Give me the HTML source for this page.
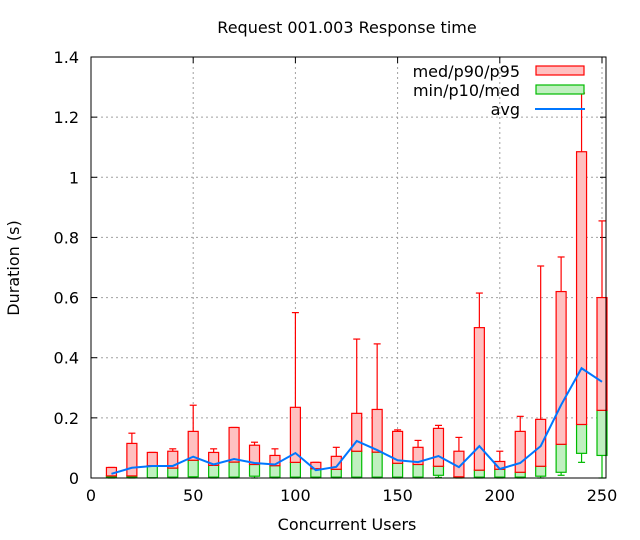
<!DOCTYPE html>
<html><head><meta charset="utf-8"><style>
body{margin:0;background:#fff}
svg{display:block;font-family:"DejaVu Sans","Liberation Sans",sans-serif}
</style></head><body>
<svg id="chart" width="640" height="540" viewBox="0 0 640 540" xmlns="http://www.w3.org/2000/svg">
<text x="347" y="33" font-size="16" text-anchor="middle">Request 001.003 Response time</text>
<text x="19" y="268" font-size="16" text-anchor="middle" transform="rotate(-90 19 268)">Duration (s)</text>
<text x="347" y="530" font-size="16" text-anchor="middle">Concurrent Users</text>
<g id="grid"></g>
<g id="ticks"></g>
<g id="marks"></g>
<g id="legend">
<text x="520" y="77" font-size="16" text-anchor="end">med/p90/p95</text>
<rect x="536" y="66" width="48" height="9" fill="#ffc0c0" stroke="#f00" stroke-width="1.2"/>
<text x="520" y="96" font-size="16" text-anchor="end">min/p10/med</text>
<rect x="536" y="85" width="48" height="9" fill="#c0f0c0" stroke="#0b0" stroke-width="1.2"/>
<text x="520" y="115" font-size="16" text-anchor="end">avg</text>
<line x1="535" y1="109" x2="585" y2="109" stroke="#07f" stroke-width="2"/>
</g>
<rect x="91" y="57" width="515" height="421" fill="none" stroke="#000" stroke-width="1"/>
</svg>
<script>
const users=[10,20,30,40,50,60,70,80,90,100,110,120,130,140,150,160,170,180,190,200,210,220,230,240,250];
const minV=[0,0,0,0,0.002,0,0,0,0,0,0,0,0,0,0,0,0.002,0,0,0,0,0,0.009,0.052,0];
const p10=[0.003,0.003,0.001,0.003,0.004,0.003,0.003,0.006,0.003,0.003,0.003,0.003,0.003,0.003,0.003,0.003,0.009,0.003,0.003,0.003,0.003,0.006,0.019,0.082,0.075];
const med=[0.007,0.007,0.041,0.033,0.059,0.042,0.053,0.045,0.041,0.052,0.031,0.029,0.089,0.086,0.049,0.045,0.039,0.004,0.026,0.029,0.019,0.039,0.112,0.178,0.225];
const p90=[0.035,0.115,0.085,0.089,0.155,0.085,0.168,0.109,0.075,0.235,0.052,0.072,0.215,0.228,0.155,0.102,0.165,0.089,0.5,0.055,0.155,0.195,0.62,1.085,0.6];
const p95=[0.035,0.149,0.085,0.097,0.242,0.097,0.168,0.119,0.097,0.55,0.052,0.102,0.462,0.446,0.16,0.125,0.175,0.135,0.615,0.089,0.205,0.705,0.735,1.28,0.855];
const avg=[0.014,0.034,0.04,0.04,0.071,0.045,0.063,0.05,0.045,0.083,0.026,0.037,0.123,0.093,0.059,0.053,0.073,0.036,0.106,0.03,0.05,0.106,0.243,0.365,0.32];
const yTicks=[0,0.2,0.4,0.6,0.8,1,1.2,1.4];
const xTicks=[0,50,100,150,200,250];
const NS="http://www.w3.org/2000/svg";
const X=v=>91+v*(511/250);
const Y=v=>478-v*(421/1.4);
function mk(parent,tag,attrs){const e=document.createElementNS(NS,tag);for(const k in attrs)e.setAttribute(k,attrs[k]);document.getElementById(parent).appendChild(e);return e;}
yTicks.forEach(t=>{
  if(t>0&&t<1.4){const g=mk('grid','line',{x1:91,x2:606,y1:Y(t),y2:Y(t),stroke:'#a0a0a0','stroke-dasharray':'2,3'});
  
  }
  mk('ticks','line',{x1:91,x2:97,y1:Y(t),y2:Y(t),stroke:'#000'});
  mk('ticks','line',{x1:600,x2:606,y1:Y(t),y2:Y(t),stroke:'#000'});
  const l=mk('ticks','text',{x:79,y:Y(t)+6,'font-size':16,'text-anchor':'end'});
  l.textContent=String(t);
  
  
});
xTicks.forEach(t=>{
  if(t>0){const g=mk('grid','line',{x1:X(t),x2:X(t),y1:57,y2:478,stroke:'#a0a0a0','stroke-dasharray':'2,3'});
  
  }
  mk('ticks','line',{x1:X(t),x2:X(t),y1:478,y2:472,stroke:'#000'});
  mk('ticks','line',{x1:X(t),x2:X(t),y1:57,y2:63,stroke:'#000'});
  const l=mk('ticks','text',{x:X(t),y:501,'font-size':16,'text-anchor':'middle'});
  l.textContent=String(t);
  
  
});
const hw=5, tw=3.5;
users.forEach((u,i)=>{
  const cx=X(u);
  mk('marks','line',{x1:cx,x2:cx,y1:Y(minV[i]),y2:Y(p10[i]),stroke:'#0b0','stroke-width':1.2});
  mk('marks','line',{x1:cx-tw,x2:cx+tw,y1:Y(minV[i]),y2:Y(minV[i]),stroke:'#0b0','stroke-width':1.2});
  const g=mk('marks','rect',{x:cx-hw,y:Y(med[i]),width:2*hw,height:Math.max(0.5,Y(p10[i])-Y(med[i])),fill:'#c0f0c0',stroke:'#0b0','stroke-width':1.2});
  
  
  mk('marks','line',{x1:cx,x2:cx,y1:Y(p90[i]),y2:Y(p95[i]),stroke:'#f00','stroke-width':1.2});
  mk('marks','line',{x1:cx-tw,x2:cx+tw,y1:Y(p95[i]),y2:Y(p95[i]),stroke:'#f00','stroke-width':1.2});
  const r=mk('marks','rect',{x:cx-hw,y:Y(p90[i]),width:2*hw,height:Math.max(0.5,Y(med[i])-Y(p90[i])),fill:'#ffc0c0',stroke:'#f00','stroke-width':1.2});
  
  
});
const pl=mk('marks','polyline',{points:users.map((u,i)=>X(u)+','+Y(avg[i])).join(' '),fill:'none',stroke:'#07f','stroke-width':2});


</script>
</body></html>
